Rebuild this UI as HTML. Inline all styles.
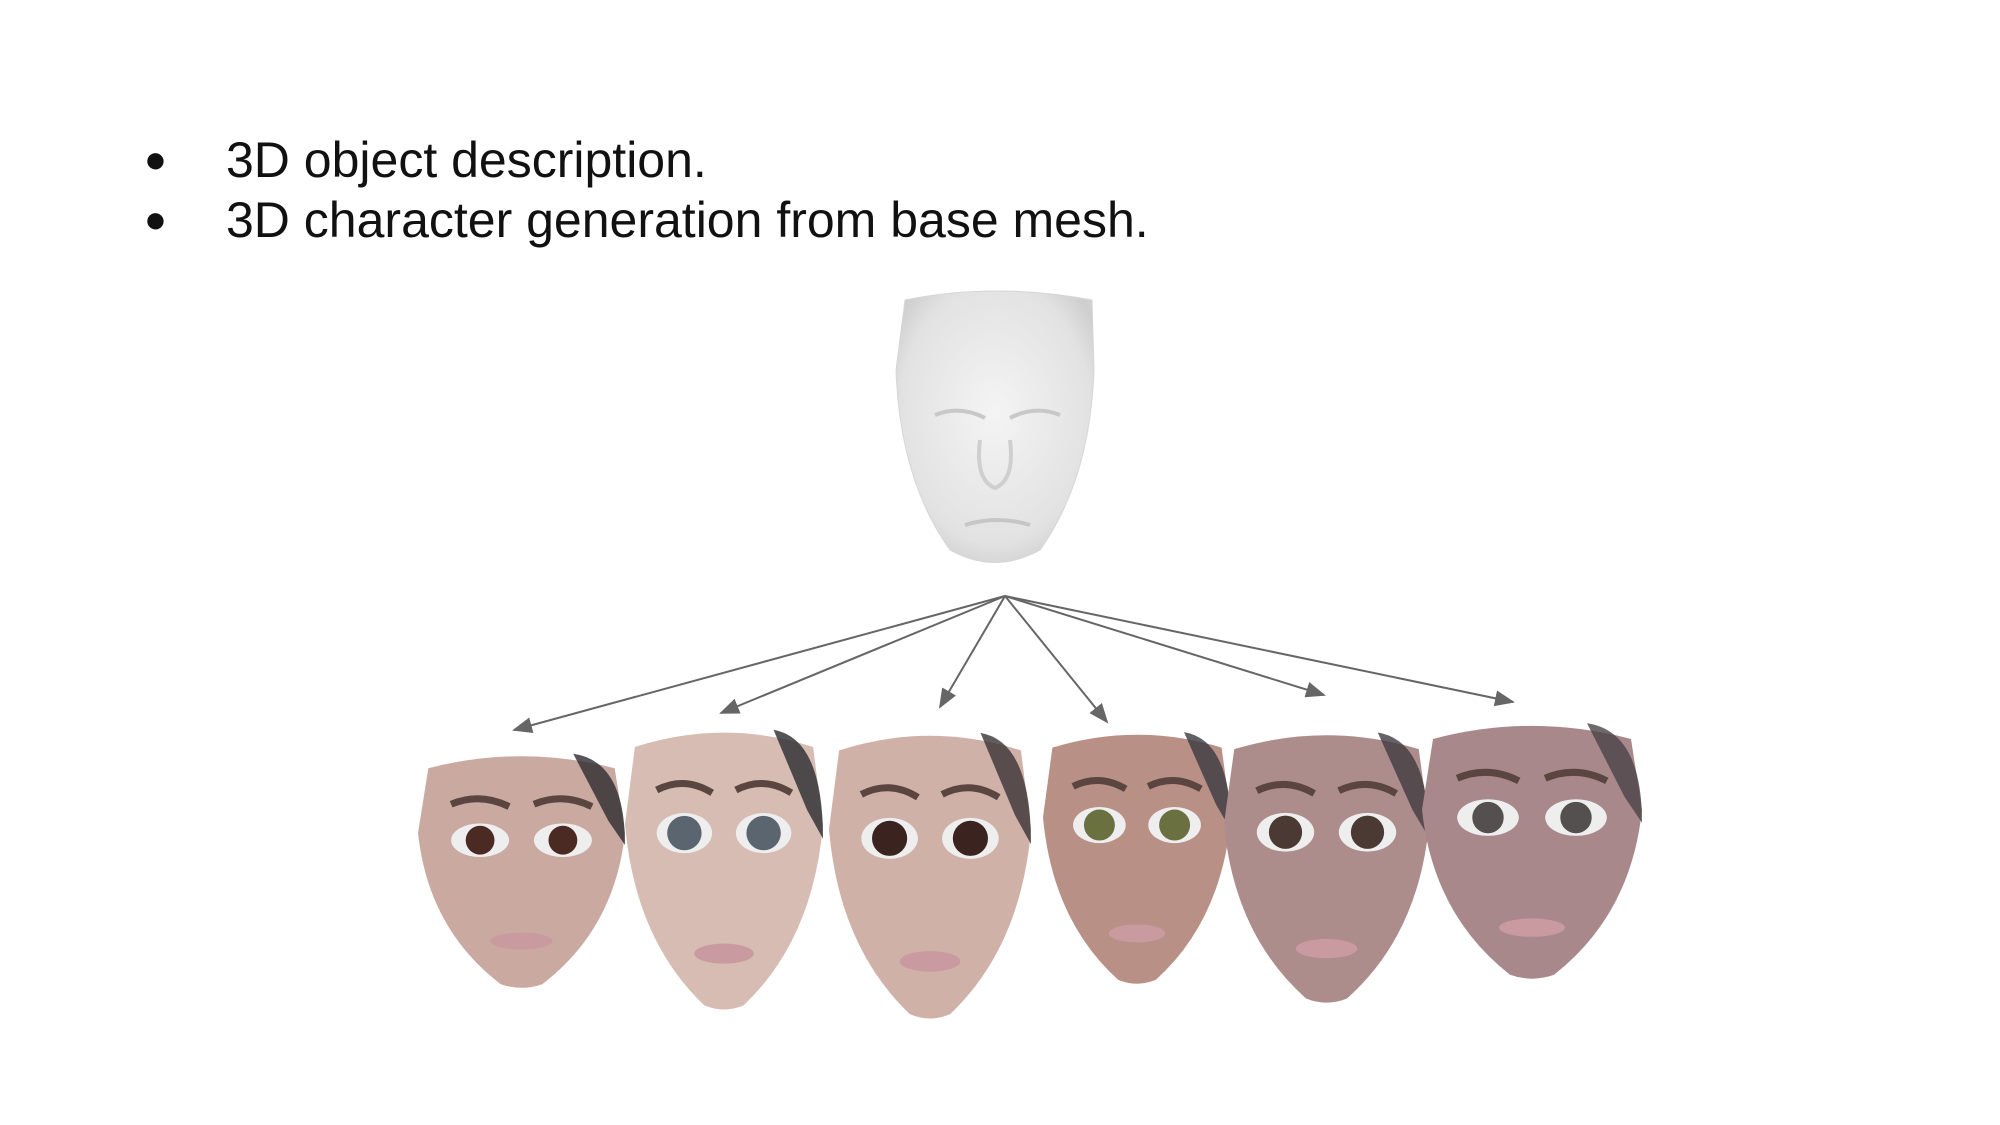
<!DOCTYPE html>
<html><head><meta charset="utf-8"><style>
html,body{margin:0;padding:0;background:#fff;}
#page{position:relative;width:2000px;height:1125px;overflow:hidden;background:#fff;font-family:"Liberation Sans",sans-serif;}
.bl{position:absolute;left:0;font-size:50px;color:#111;white-space:nowrap;}
.bl .dot{position:absolute;left:144px;top:0;font-size:38px;line-height:56px;}
.bl .t{position:absolute;left:226px;top:0;line-height:56px;}
svg{position:absolute;left:0;top:0;}
</style></head><body>
<div id="page">
<div class="bl" style="top:132px"><span class="dot">●</span><span class="t">3D object description.</span></div>
<div class="bl" style="top:192px"><span class="dot">●</span><span class="t">3D character generation from base mesh.</span></div>
<svg width="2000" height="1125" viewBox="0 0 2000 1125">
<defs>
<marker id="ah" markerWidth="10" markerHeight="8" refX="9" refY="4" orient="auto"><path d="M0,0 L10,4 L0,8 z" fill="#666"/></marker>
<radialGradient id="mesh" cx="50%" cy="45%" r="60%"><stop offset="0" stop-color="#f4f4f4"/><stop offset="0.8" stop-color="#e2e2e2"/><stop offset="1" stop-color="#cfcfcf"/></radialGradient>
</defs>
<g id="basemesh">
<path d="M905,300 Q995,282 1092,300 L1094,370 Q1090,480 1040,550 Q995,575 950,550 Q900,480 896,370 Z" fill="url(#mesh)" stroke="#d6d6d6"/>
<path d="M935,415 Q960,405 985,418 M1010,418 Q1035,405 1060,415" stroke="#c8c8c8" stroke-width="4" fill="none"/>
<path d="M980,440 Q975,480 995,488 Q1015,480 1010,440" stroke="#cfcfcf" stroke-width="4" fill="none"/>
<path d="M965,525 Q997,515 1030,525" stroke="#c6c6c6" stroke-width="4" fill="none"/>
</g>
<g id="arrows"></g>
<g id="faces"></g>
</svg>
</div>
<script>
const arrowTargets=[[514,730],[721,713],[940,707],[1107,722],[1324,695],[1513,702]];
const origin=[1005,596];
const NS="http://www.w3.org/2000/svg";
const ag=document.getElementById('arrows');
arrowTargets.forEach((t,i)=>{
 const l=document.createElementNS(NS,'line');
 l.setAttribute('x1',origin[0]);l.setAttribute('y1',origin[1]);
 l.setAttribute('x2',t[0]);l.setAttribute('y2',t[1]);
 l.setAttribute('stroke','#666');l.setAttribute('stroke-width','2');
 l.setAttribute('marker-end','url(#ah)');
 
 
 ag.appendChild(l);
});
const faces=[
 [418,625,749,989,'#c9a9a0','#4a2a22','#2e2b2f'],
 [625,823,724,1011,'#d6bcb2','#5a6570','#2b2a30'],
 [829,1031,727,1020,'#cfb1a8','#3b2420','#3a3336'],
 [1043,1231,727,985,'#b99086','#6a7040','#3b3a40'],
 [1224,1429,727,1004,'#ad8c8c','#4a3a33','#403b40'],
 [1422,1642,718,980,'#a8888a','#555050','#4a4448']
];
const fg=document.getElementById('faces');
faces.forEach((f,i)=>{
 const [x0,x1,y0,y1,skin,eye,hair]=f;
 const w=x1-x0,h=y1-y0,cx=(x0+x1)/2;
 const g=document.createElementNS(NS,'g');
 
 
 const p=document.createElementNS(NS,'path');
 p.setAttribute('d',`M${x0+w*0.05},${y0+h*0.08} Q${cx},${y0-h*0.02} ${x1-w*0.05},${y0+h*0.08} L${x1},${y0+h*0.35} Q${x1-w*0.05},${y0+h*0.75} ${cx+w*0.1},${y1-h*0.02} Q${cx},${y1+h*0.01} ${cx-w*0.1},${y1-h*0.02} Q${x0+w*0.05},${y0+h*0.75} ${x0},${y0+h*0.35} Z`);
 p.setAttribute('fill',skin);
 g.appendChild(p);
 const hr=document.createElementNS(NS,'path');
 hr.setAttribute('d',`M${x1-w*0.25},${y0+h*0.02} Q${x1},${y0+h*0.05} ${x1},${y0+h*0.4} L${x1-w*0.08},${y0+h*0.3} Z`);
 hr.setAttribute('fill',hair);hr.setAttribute('opacity','0.8');
 g.appendChild(hr);
 [[0.3],[0.7]].forEach(([ex])=>{
  const e=document.createElementNS(NS,'ellipse');
  e.setAttribute('cx',x0+w*ex);e.setAttribute('cy',y0+h*0.38);
  e.setAttribute('rx',w*0.14);e.setAttribute('ry',h*0.07);e.setAttribute('fill','#eee');
  g.appendChild(e);
  const ir=document.createElementNS(NS,'circle');
  ir.setAttribute('cx',x0+w*ex);ir.setAttribute('cy',y0+h*0.38);
  ir.setAttribute('r',h*0.06);ir.setAttribute('fill',eye);
  g.appendChild(ir);
  const b=document.createElementNS(NS,'path');
  b.setAttribute('d',`M${x0+w*(ex-0.14)},${y0+h*0.23} Q${x0+w*ex},${y0+h*0.18} ${x0+w*(ex+0.14)},${y0+h*0.24}`);
  b.setAttribute('stroke','#5a4540');b.setAttribute('stroke-width','7');b.setAttribute('fill','none');
  g.appendChild(b);
 });
 const m=document.createElementNS(NS,'ellipse');
 m.setAttribute('cx',cx);m.setAttribute('cy',y0+h*0.8);
 m.setAttribute('rx',w*0.15);m.setAttribute('ry',h*0.035);m.setAttribute('fill','#c99a9f');
 g.appendChild(m);
 fg.appendChild(g);
});
</script>
</body></html>
